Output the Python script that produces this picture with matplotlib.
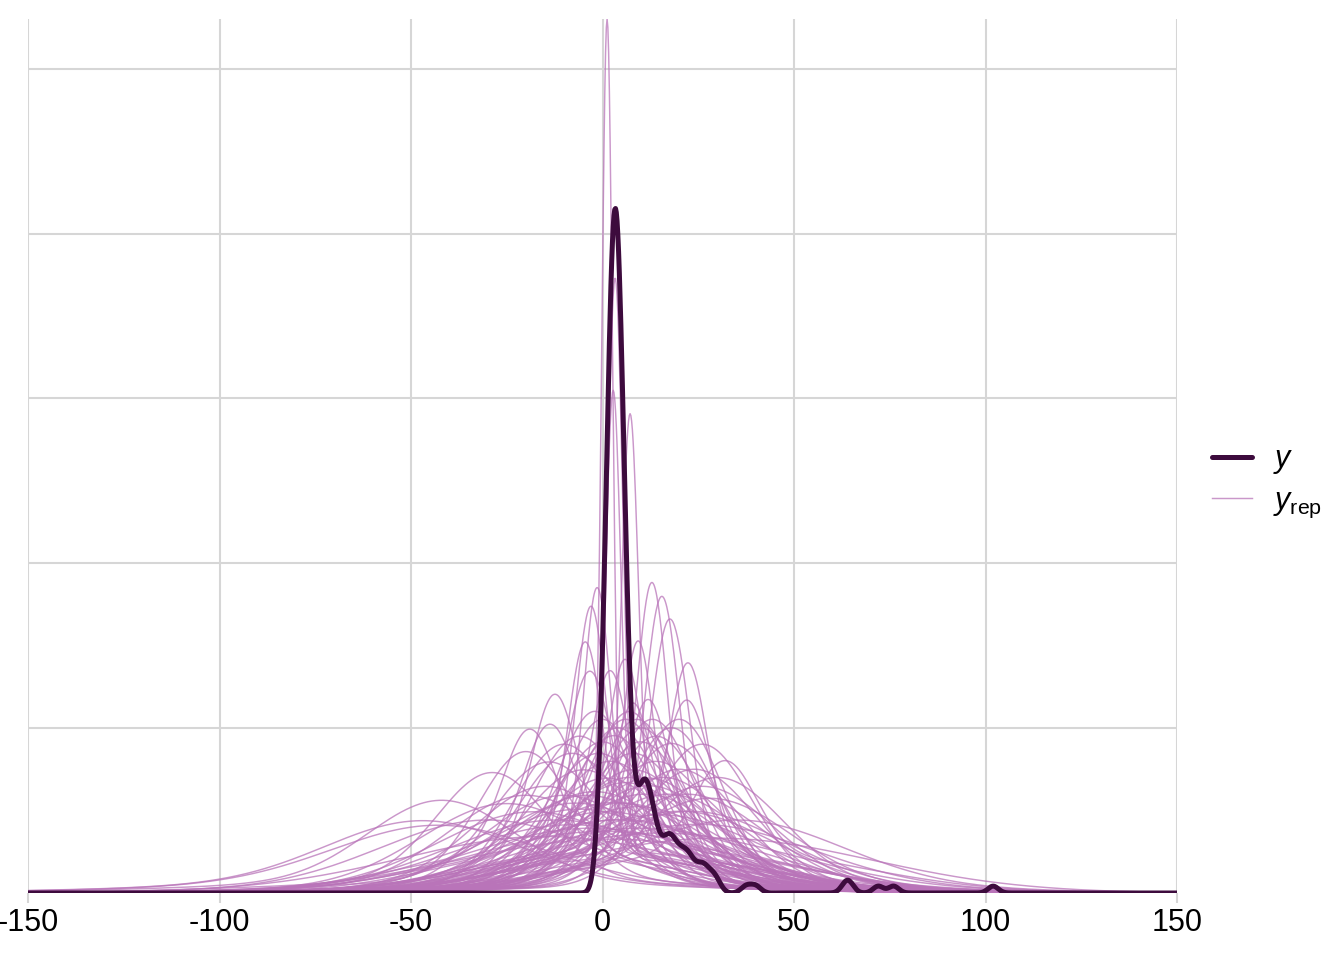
import numpy as np
import matplotlib.pyplot as plt

plt.rcParams['font.family'] = ['Liberation Sans', 'DejaVu Sans']
plt.rcParams['mathtext.fontset'] = 'custom'
plt.rcParams['mathtext.rm'] = 'Liberation Sans'
plt.rcParams['mathtext.it'] = 'Liberation Sans:italic'

# observed data (value, how many times it occurs)
y_values = [-1, 0, 1, 2, 3, 4, 5, 6, 7, 8,
            9, 10, 11, 12, 13, 14, 15, 16, 17, 18, 19, 20, 21, 22, 23, 24, 25, 26, 27, 28, 29, 30,
            37.5, 40, 63.5, 64.5, 72, 76, 102]
y_counts = [3, 8, 17, 28, 36, 34, 24, 15, 7, 4,
            3, 5, 6, 5, 4, 3, 2, 2, 3, 3, 2, 2, 2, 2, 2, 1, 1, 2, 1, 1, 1, 1,
            1, 1, 1, 1, 1, 1, 1]

# replicated draws: centre, core sd, core weight, tail sd
yrep_loc = [1.2, 3.3, 2.8, 7.2,
            -1.4, 12.9, 15.5, 17.6, 22.3, -3.0, -4.5, 9.3, 2.0, 5.9, 11.9, 22.0, 8.0, -12.4, -3.3, -19.0, -13.7, 32.0,
            -28.8, -42.0, -47.0, -43.0, -20.0,
            -8, -5, 0, 2, 4, 6, 8, 10, 12, 14,
            -10, -15, -2, 3, 5, 7, 9, 11, 16, 18,
            20, 24, 26, -6, 1, 4, -12, 15, 20, -18,
            0, 6, 10, -6, 14, 18, 3, -1, 8, 12,
            -4, 22, 28, -25, -30, 35, 5, -8, 10, 0,
            -15, 15, 25, 2, 30, -2, 7, 13, -10, 20,
            26, -14, 17, -20, 30, 1, 9, -7, 23, -3]
yrep_core_sd = [1.4, 2.0, 2.0, 2.2,
                3.5, 4, 4.5, 5, 5, 4, 4.5, 4, 5, 4.5, 5.5, 6, 5, 6, 6, 7, 7, 8,
                14.3, 19, 25, 27, 12.1,
                14.0, 15.9, 12.4, 14.9, 11.8, 18.5, 14.0, 12.4, 17.1, 14.9,
                20.2, 18.5, 20.2, 22.2, 22.2, 17.1, 22.2, 20.2, 17.1, 13.1,
                15.9, 15.9, 18.5, 24.6, 24.6, 27.6, 27.6, 25.8, 24.6, 24.6,
                10.7, 11.2, 11.8, 12.4, 12.4, 11.8, 11.8, 14.0, 15.9, 18.5,
                20.2, 20.2, 21.0, 22.2, 27.6, 27.6, 27.6, 29.7, 31.4, 33.2,
                36.5, 34.5, 29.7, 38.5, 40, 10.2, 10.7, 11.2, 13.1, 11.2,
                13.1, 14.9, 20.2, 20.2, 17.1, 17.1, 10.7, 22.2, 24.6, 31.4]
yrep_core_w = [0.532, 0.53, 0.42, 0.44,
               0.42, 0.50, 0.54, 0.55, 0.43, 0.45, 0.43, 0.37, 0.40, 0.38, 0.37, 0.41, 0.32, 0.43, 0.50, 0.39, 0.41, 0.33,
               0.70, 0.70, 0.70, 0.70, 0.70,
               0.85, 0.85, 0.80, 0.85, 0.85, 0.90, 0.85, 0.80, 0.85, 0.85,
               0.85, 0.85, 0.90, 0.85, 0.85, 0.85, 0.80, 0.85, 0.85, 0.85,
               0.85, 0.85, 0.85, 0.90, 0.85, 0.85, 0.85, 0.85, 0.85, 0.85,
               0.80, 0.85, 0.85, 0.85, 0.85, 0.85, 0.80, 0.85, 0.85, 0.85,
               0.85, 0.85, 0.85, 0.85, 0.85, 0.85, 0.85, 0.85, 0.85, 0.85,
               0.85, 0.85, 0.85, 0.85, 1.00, 0.80, 0.85, 0.85, 0.85, 0.85,
               0.85, 0.85, 0.85, 0.85, 0.85, 0.85, 0.80, 0.85, 0.85, 0.85]
yrep_tail_sd = [25, 30, 30, 30,
                30, 30, 30, 30, 30, 30, 30, 28, 28, 28, 30, 30, 30, 30, 28, 32, 32, 35,
                50, 55, 60, 60, 45,
                50, 55, 45, 50, 45, 60, 50, 45, 55, 50,
                60, 55, 60, 50, 55, 50, 60, 50, 50, 45,
                50, 50, 55, 60, 60, 60, 60, 55, 55, 60,
                45, 45, 45, 50, 50, 45, 50, 50, 55, 50,
                60, 50, 55, 60, 60, 60, 55, 60, 60, 60,
                60, 55, 55, 60, 40, 45, 45, 45, 50, 45,
                50, 55, 50, 60, 50, 55, 45, 55, 55, 60]

x_ticks = [-150, -100, -50, 0, 50, 100, 150]
y_grid_step = 0.03

col_y = '#3d0b3d'
col_yrep = '#b974b9'
grid_col = '#d6d6d6'


def normal(x, m, s):
    return np.exp(-0.5 * ((x - m) / s) ** 2) / (s * np.sqrt(2 * np.pi))


def kde(values, counts, grid):
    v = np.repeat(np.asarray(values, dtype=float), counts)
    n = len(v)
    q75, q25 = np.percentile(v, [75, 25])
    bw = 0.9 * min(v.std(ddof=1), (q75 - q25) / 1.34) * n ** -0.2  # like R's bw.nrd0
    return normal(grid[:, None], v[None, :], bw).mean(axis=1)


xs = np.linspace(-150, 150, 1501)
dens_y = kde(y_values, y_counts, xs)
dens_rep = []
for m, s, w, t in zip(yrep_loc, yrep_core_sd, yrep_core_w, yrep_tail_sd):
    dens_rep.append(w * normal(xs, m, s) + (1 - w) * normal(xs, m, t))

fig = plt.figure(figsize=(13.44, 9.6), dpi=100)
ax = fig.add_axes([28 / 1344, 1 - 893 / 960, (1177 - 28) / 1344, (893 - 19) / 960])

for i, d in enumerate(dens_rep):
    ax.plot(xs, d, color=col_yrep, alpha=0.75, lw=1.05, zorder=2,
            label=r'$y_{\mathrm{rep}}$' if i == 0 else None)
ax.plot(xs, dens_y, color=col_y, lw=3.6, solid_capstyle='round', zorder=3, label=r'$y$')

top = max(d.max() for d in dens_rep + [dens_y])
ax.set_xlim(-150, 150)
ax.set_ylim(0, top)
ax.set_xticks(x_ticks)
ax.set_xticklabels([str(t) for t in x_ticks])
ax.set_yticks(np.arange(y_grid_step, top, y_grid_step))
ax.set_yticklabels([])
ax.grid(True, color=grid_col, lw=1.5, zorder=0)
ax.set_axisbelow(True)
ax.tick_params(axis='x', length=7, width=1.5, color=grid_col, labelsize=22, pad=4)
ax.tick_params(axis='y', length=0)
for sp in ax.spines.values():
    sp.set_visible(False)

h, l = ax.get_legend_handles_labels()
order = [l.index(r'$y$'), l.index(r'$y_{\mathrm{rep}}$')]
fig.legend([h[i] for i in order], [l[i] for i in order], loc='center left',
           bbox_to_anchor=(1212 / 1344, 1 - 482 / 960), frameon=False, fontsize=22,
           handlelength=1.3, handletextpad=0.7, labelspacing=0.3, borderpad=0, borderaxespad=0)

fig.savefig('out.png', dpi=100)
